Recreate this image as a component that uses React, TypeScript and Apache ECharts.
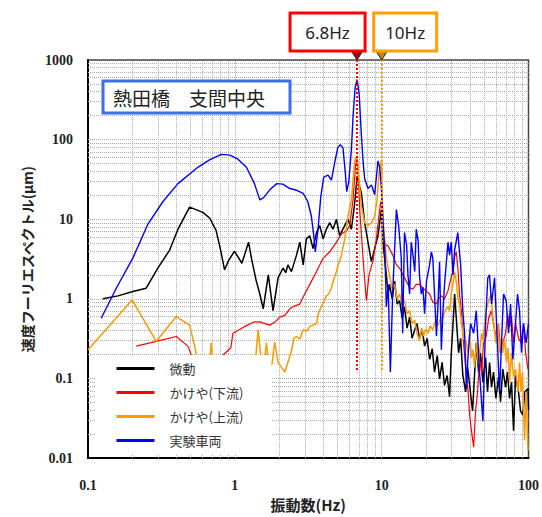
import { useEffect, useRef } from "react";
import * as echarts from "echarts";

// Velocity Fourier spectra at mid-span of 熱田橋: [frequency Hz, amplitude μm]
const seriesNames = ["微動", "かけや(下流)", "かけや(上流)", "実験車両"];

const microtremor: [number, number][] = [
  [0.126, 1.0], [0.16, 1.09], [0.202, 1.24], [0.249, 1.36], [0.299, 2.43], [0.36, 4.1], [0.41, 7.5],
  [0.492, 14.2], [0.606, 12.2], [0.676, 10.3], [0.746, 7.2], [0.8, 4.1], [0.851, 2.32], [0.91, 3.07],
  [0.995, 3.96], [1.117, 2.8], [1.24, 5.15], [1.305, 3.07], [1.4, 1.67], [1.48, 1.15], [1.56, 0.75],
  [1.69, 2.0], [1.82, 0.71], [1.97, 1.84], [2.13, 2.43], [2.22, 2.13], [2.3, 2.67], [2.43, 2.2],
  [2.63, 3.54], [2.77, 5.15], [2.92, 2.67], [3.07, 5.67], [3.24, 6.2], [3.41, 4.28], [3.6, 6.8],
  [3.79, 8.3], [3.99, 5.67], [4.2, 7.5], [4.43, 9.06], [4.66, 7.5], [4.92, 9.97], [5.18, 6.2],
  [5.6, 8.3], [5.9, 10], [6.22, 7.5], [6.55, 15.9], [6.8, 33.8], [7.03, 27], [7.28, 21.1],
  [7.66, 9.06], [8.07, 5.15], [8.51, 2.93], [8.96, 4.28], [9.44, 6.2], [9.95, 13.2], [10.2, 5.15],
  [10.76, 2.0], [11.07, 1.15], [11.3, 1.52], [11.8, 1.0], [12.25, 1.67], [12.75, 0.86], [13.25, 0.95],
  [13.8, 0.57], [14.3, 0.79], [14.9, 0.43], [15.5, 0.59], [16.1, 0.32], [16.8, 0.41], [17.4, 0.49],
  [18.1, 0.32], [18.9, 0.41], [19.6, 0.255], [20.4, 0.32], [21.2, 0.174], [22.1, 0.236], [22.9, 0.12],
  [23.9, 0.194], [24.8, 0.099], [25.8, 0.159], [26.8, 0.082], [27.9, 0.109], [29, 0.059], [29.8, 0.21],
  [30.9, 0.65], [31.4, 1.15], [32.4, 0.49], [33.4, 0.21], [34.5, 0.32], [35.7, 0.11], [37.3, 0.068],
  [38.5, 0.138], [39.7, 0.083], [41.6, 0.039], [44.1, 0.28], [45.7, 0.12], [47.1, 0.21], [48.9, 0.09],
  [51, 0.183], [52.6, 0.068], [54.3, 0.159], [56, 0.078], [57.8, 0.12], [60, 0.056], [62.5, 0.104],
  [64.5, 0.051], [66.8, 0.131], [69.8, 0.078], [71.9, 0.12], [74.3, 0.056], [76.6, 0.09], [79.1, 0.022],
  [81.6, 0.109], [85.5, 0.068], [88.3, 0.039], [91.4, 0.035], [94.6, 0.068], [99.2, 0.075], [100, 0.04],
];

const hammerDownstream: [number, number][] = [
  [0.213, 0.255], [0.292, 0.293], [0.399, 0.337], [0.479, 0.255], [0.543, 0.138], [0.731, 0.159],
  [0.94, 0.243], [0.97, 0.37], [1.02, 0.388], [1.17, 0.451], [1.36, 0.515], [1.48, 0.515], [1.73, 0.468],
  [1.9, 0.52], [2.02, 0.59], [2.19, 0.62], [2.37, 0.75], [2.56, 0.817], [2.77, 0.86], [2.99, 1.15],
  [3.24, 1.52], [3.6, 2.2], [3.99, 3.23], [4.43, 3.9], [4.92, 5.15], [5.32, 6.53], [5.78, 7.2],
  [6.06, 8.3], [6.38, 17.5], [6.65, 49.3], [6.8, 59.5], [6.92, 39], [7.09, 13.2], [7.47, 3.23],
  [7.66, 1.75], [7.87, 0.95], [8.2, 2.0], [8.73, 3.0], [9.2, 5.67], [9.57, 10.9], [9.85, 16.7],
  [10.07, 12.6], [10.3, 6.2], [10.6, 4.7], [11.0, 4.7], [11.9, 3.54], [12.6, 2.67], [13.25, 2.43],
  [14.7, 1.67], [15.5, 1.38], [16.3, 1.32], [17.2, 1.52], [18.1, 1.52], [19.0, 1.38], [20.1, 1.26],
  [21.2, 1.15], [22.3, 0.906], [23.6, 0.86], [24.4, 1.0], [25.5, 1.09], [26.8, 1.0], [28.3, 1.26],
  [29.5, 1.75], [30.5, 2.2], [31.4, 3.35], [32.2, 3.9], [33.1, 2.32], [33.9, 1.15], [34.9, 0.71],
  [36.1, 0.28], [37.7, 0.109], [38.8, 0.068], [39.7, 0.035], [40.9, 0.022], [42.3, 0.0137], [43.6, 0.039],
  [45, 0.068], [46.4, 0.174], [47.9, 0.12], [49.4, 0.28], [51.5, 0.337], [53.5, 0.57], [55.7, 0.71],
  [57.8, 0.49], [60, 0.337], [62.5, 0.49], [64.5, 0.21], [66.8, 0.28], [69.8, 0.37], [71.9, 0.65],
  [74.3, 0.448], [76.6, 0.6], [79.1, 0.28], [81.6, 0.49], [85.5, 0.32], [89, 0.28], [92.5, 0.49],
  [95.6, 0.21], [99.2, 0.131],
];

const hammerUpstream: [number, number][] = [
  [0.1, 0.229], [0.2, 0.966], [0.292, 0.293], [0.399, 0.6], [0.492, 0.468], [0.532, 0.255], [0.578, 0.12],
  [0.665, 0.12], [0.69, 0.28], [0.714, 0.12], [0.86, 0.1], [1.085, 0.095], [1.37, 0.138], [1.44, 0.41],
  [1.52, 0.15], [1.6, 0.183], [1.64, 0.28], [1.69, 0.168], [1.79, 0.15], [1.87, 0.287], [1.97, 0.159],
  [2.19, 0.12], [2.43, 0.223], [2.52, 0.32], [2.63, 0.337], [2.77, 0.313], [2.92, 0.41], [3.07, 0.392],
  [3.24, 0.448], [3.39, 0.464], [3.6, 0.49], [3.7, 0.65], [3.87, 0.79], [4.03, 0.914], [4.2, 1.09],
  [4.36, 1.15], [4.55, 1.38], [4.71, 1.75], [4.92, 2.2], [5.1, 2.82], [5.32, 3.54], [5.6, 5.67],
  [5.9, 10.9], [6.22, 17.5], [6.55, 54.2], [6.8, 63], [7.03, 29.4], [7.28, 14.5], [7.66, 9.06],
  [8.07, 8.3], [8.51, 9.06], [8.96, 10.9], [9.29, 17.5], [9.62, 39], [9.95, 54.7], [10.2, 10],
  [10.76, 3.23], [11.3, 2.0], [11.8, 1.32], [12.25, 1.52], [12.75, 1.0], [13.25, 1.15], [13.8, 0.817],
  [14.3, 0.95], [14.9, 0.65], [15.5, 0.71], [16.1, 0.49], [16.8, 0.54], [17.4, 0.37], [18.1, 0.3],
  [18.7, 0.43], [19.3, 0.34], [20, 0.42], [20.7, 0.37], [21.4, 0.456], [22.3, 0.41], [23.1, 0.52],
  [24.2, 0.464], [25.2, 0.57], [26.1, 0.59], [27.2, 0.73], [28.3, 0.79], [29, 0.71], [29.8, 1.15],
  [30.9, 1.75], [31.4, 2.2], [32.4, 1.52], [33.1, 1.0], [33.9, 0.86], [35, 0.49], [36.1, 0.32],
  [37.7, 0.28], [38.8, 0.21], [39.7, 0.37], [40.9, 0.183], [41.8, 0.23], [42.9, 0.138], [44.3, 0.28],
  [45.7, 0.15], [46.4, 0.21], [47.9, 0.37], [48.9, 0.3], [50.2, 0.49], [51.4, 0.71], [52.8, 0.86],
  [54.3, 1.0], [55.7, 1.15], [56.9, 0.65], [58.4, 0.43], [60, 0.28], [62.1, 0.49], [63.5, 0.21],
  [65, 0.32], [66.8, 0.21], [68.7, 0.32], [70.8, 0.159], [72.6, 0.243], [74.3, 0.09], [76.6, 0.21],
  [79.1, 0.104], [81.6, 0.131], [84.9, 0.068], [86.9, 0.159], [89, 0.068], [91, 0.12], [94, 0.0166],
  [96.2, 0.068], [99.2, 0.0125],
];

const testVehicle: [number, number][] = [
  [0.123, 0.57], [0.157, 1.4], [0.202, 3.25], [0.256, 8.7], [0.324, 16.7], [0.41, 28], [0.56, 44.9],
  [0.676, 56], [0.81, 65.3], [0.925, 63.8], [1.05, 56.7], [1.2, 44.9], [1.36, 28], [1.48, 17.5],
  [1.57, 18.7], [1.73, 23.4], [1.93, 28], [2.12, 27.6], [2.37, 24.3], [2.64, 23.1], [2.92, 21.1],
  [3.14, 16.7], [3.32, 10.9], [3.45, 6.2], [3.53, 3.9], [3.69, 7.6], [3.85, 19.2], [4.03, 33.8],
  [4.31, 35.8], [4.55, 31.1], [4.79, 51.7], [5.02, 78.9], [5.22, 86.6], [5.45, 78.9], [5.65, 39],
  [5.78, 22.2], [5.97, 29.4], [6.22, 75.2], [6.4, 212], [6.6, 454], [6.8, 569], [7.03, 372], [7.28, 111],
  [7.48, 51.7], [7.66, 32.3], [8.07, 24.3], [8.51, 27], [8.96, 20.4], [9.44, 54.2], [9.69, 44.9],
  [9.95, 25.5], [10.24, 8.3], [10.5, 4.3], [10.76, 0.79], [11.07, 1.52], [11.46, 0.12], [11.88, 1.15],
  [12.59, 13.2], [13.05, 8.3], [13.6, 3.25], [13.9, 0.37], [14.3, 6.8], [14.8, 4.7], [15.1, 2.0],
  [15.5, 1.15], [15.9, 5.15], [16.4, 3.35], [16.8, 2.2], [17.2, 7.5], [17.7, 5.4], [18.1, 2.0],
  [18.6, 1.15], [19.1, 1.4], [19.6, 0.65], [20.2, 1.67], [21.2, 2.67], [21.8, 3.9], [22.3, 3.25],
  [22.9, 1.15], [23.6, 0.34], [24.2, 0.86], [24.8, 2.93], [25.5, 0.23], [26.1, 0.65], [26.8, 1.52],
  [28.3, 5.15], [29, 3.54], [29.8, 5.15], [30.6, 2.0], [31.4, 4.1], [33, 6.8], [34.5, 2.67], [35.7, 0.71],
  [36.7, 0.37], [37.8, 0.074], [38.6, 0.174], [40.3, 0.49], [42.3, 0.37], [44.1, 0.71], [46.4, 0.12],
  [48.9, 0.029], [51, 0.49], [52.8, 1.84], [54.3, 2.0], [56, 0.86], [58.7, 1.84], [60.6, 0.49],
  [63.5, 0.068], [65.5, 0.28], [67.6, 1.15], [70.5, 0.95], [73.1, 0.37], [75.5, 0.86], [78.2, 0.174],
  [81.6, 0.49], [84.2, 1.15], [86.9, 0.71], [89.6, 0.21], [92.5, 0.49], [96.4, 0.28], [100, 0.49],
];

// Dominant frequencies marked by call-outs
const peakFreqs = [6.8, 10];
const peakLabels = ["6.8Hz", "10Hz"];
const peakLineBottom = 0.12;

const xRange = [0.1, 100];
const yRange = [0.01, 1000];

const titleText = "熱田橋　支間中央";

// log-decade grid positions (1..9 × 10^n) strictly inside the range
function decadeLines(lo: number, hi: number): number[] {
  const out: number[] = [];
  for (let d = lo; d < hi * 0.999; d *= 10) {
    for (let m = 1; m <= 9; m++) {
      const v = parseFloat((m * d).toPrecision(4));
      if (v > lo * 1.0001 && v < hi * 0.9999) out.push(v);
    }
  }
  return out;
}

export default function App() {
  const ref = useRef<HTMLDivElement>(null);

  useEffect(() => {
    if (!ref.current) return;
    const chart = echarts.init(ref.current, null, { renderer: "svg" });
    const serif = "'Liberation Serif', 'DejaVu Serif', serif";
    const cjk = "'Noto Sans CJK JP', 'Noto Sans', sans-serif";
    const fmt = (v: number) => String(parseFloat(Number(v).toPrecision(6)));

    const colors = ["#000000", "#ff0000", "#ff9900", "#0000ff"];
    const widths = [1.5, 1.2, 1.5, 1.4];
    const datasets = [microtremor, hammerDownstream, hammerUpstream, testVehicle];

    const dataSeries = datasets.map((d, i) => ({
      name: seriesNames[i],
      type: "line",
      data: d,
      symbol: "none",
      showSymbol: false,
      color: colors[i],
      lineStyle: { color: colors[i], width: widths[i] },
      z: 2,
      silent: true,
    }));

    const gridSeries = {
      name: "grid",
      type: "line",
      data: [[1, 1]],
      symbol: "none",
      lineStyle: { opacity: 0 },
      z: 1,
      silent: true,
      markLine: {
        z: 1,
        silent: true,
        symbol: "none",
        label: { show: false },
        lineStyle: { color: "#ababab", type: "dotted", width: 1 },
        data: [
          ...decadeLines(xRange[0], xRange[1]).map((v) => ({ xAxis: v })),
          ...decadeLines(yRange[0], yRange[1]).map((v) => ({ yAxis: v })),
        ],
      },
    };

    const peakColors = ["#ff0000", "#ffa000"];
    const peakSeries = peakFreqs.map((f, i) => ({
      name: "peak" + i,
      type: "line",
      data: [[1, 1]],
      symbol: "none",
      lineStyle: { opacity: 0 },
      z: 3,
      silent: true,
      markLine: {
        z: 3,
        silent: true,
        symbol: "none",
        label: { show: false },
        lineStyle: { color: peakColors[i], type: "dotted", width: 2 },
        data: [[{ coord: [f, yRange[1]] }, { coord: [f, peakLineBottom] }]],
      },
    }));

    chart.setOption({
      animation: false,
      backgroundColor: "#ffffff",
      grid: {
        left: 88,
        right: 13,
        top: 60,
        bottom: 49,
        show: true,
        borderColor: "#444",
        borderWidth: 1.5,
        backgroundColor: "transparent",
      },
      xAxis: {
        type: "log",
        logBase: 10,
        min: xRange[0],
        max: xRange[1],
        name: "振動数(Hz)",
        nameLocation: "middle",
        nameGap: 36,
        nameTextStyle: { fontFamily: cjk, fontSize: 15, fontWeight: "bold", color: "#222" },
        axisLine: { show: true, onZero: false, lineStyle: { color: "#000", width: 2 } },
        axisTick: { show: false },
        splitLine: { show: false },
        minorTick: { show: false },
        axisLabel: {
          formatter: fmt,
          fontFamily: serif,
          fontWeight: "bold",
          fontSize: 14,
          color: "#222",
          margin: 20,
          showMinLabel: true,
          showMaxLabel: true,
        },
      },
      yAxis: {
        type: "log",
        logBase: 10,
        min: yRange[0],
        max: yRange[1],
        name: "速度フーリエスペクトル(μm)",
        nameLocation: "middle",
        nameRotate: 90,
        nameGap: 53,
        nameTextStyle: { fontFamily: cjk, fontSize: 14, fontWeight: "bold", color: "#222" },
        axisLine: { show: true, onZero: false, lineStyle: { color: "#000", width: 2 } },
        axisTick: { show: false },
        splitLine: { show: false },
        axisLabel: {
          formatter: fmt,
          fontFamily: serif,
          fontWeight: "bold",
          fontSize: 14,
          color: "#222",
          margin: 15,
          showMinLabel: true,
          showMaxLabel: true,
        },
      },
      legend: {
        z: 6,
        data: seriesNames,
        orient: "vertical",
        left: 95,
        top: 355,
        padding: [7, 28, 8, 20],
        itemWidth: 38,
        itemHeight: 14,
        itemGap: 11,
        backgroundColor: "#ffffff",
        selectedMode: false,
        lineStyle: { width: 3 },
        itemStyle: { opacity: 0, borderWidth: 0 },
        textStyle: { fontFamily: cjk, fontSize: 13, color: "#333", padding: [0, 0, 0, 10] },
      },
      series: [gridSeries, ...dataSeries, ...peakSeries],
    });

    // call-out boxes anchored to the peak frequencies
    const top = chart.convertToPixel({ yAxisIndex: 0 }, yRange[1]) as number;
    const boxLayout = [
      { dx: -67, w: 75, stroke: "#ff0000", tip: "#b40000" },
      { dx: -8, w: 63, stroke: "#ffa000", tip: "#c98200" },
    ];
    const callouts: any[] = [];
    peakFreqs.forEach((f, i) => {
      const x = chart.convertToPixel({ xAxisIndex: 0 }, f) as number;
      const b = boxLayout[i];
      callouts.push(
        {
          type: "polygon",
          z: 20,
          shape: { points: [[x - 7, top - 11], [x + 7, top - 11], [x, top]] },
          style: { fill: b.tip, stroke: "#222", lineWidth: 1 },
        },
        {
          type: "rect",
          z: 21,
          shape: { x: x + b.dx, y: top - 47, width: b.w, height: 38 },
          style: { fill: "#ffffff", stroke: b.stroke, lineWidth: 3 },
        },
        {
          type: "text",
          z: 22,
          style: {
            text: peakLabels[i],
            x: x + b.dx + b.w / 2,
            y: top - 28,
            align: "center",
            verticalAlign: "middle",
            textAlign: "center",
            textVerticalAlign: "middle",
            font: "17px 'Noto Sans', 'Open Sans', sans-serif",
            fill: "#222",
          },
        }
      );
    });

    chart.setOption({
      graphic: [
        {
          type: "rect",
          z: 20,
          shape: { x: 103, y: 81, width: 187, height: 32 },
          style: { fill: "#ffffff", stroke: "#3d6fe6", lineWidth: 3 },
        },
        {
          type: "text",
          z: 21,
          style: {
            text: titleText,
            x: 113,
            y: 97,
            align: "left",
            verticalAlign: "middle",
            textAlign: "left",
            textVerticalAlign: "middle",
            font: "19px 'Noto Sans CJK JP', sans-serif",
            fill: "#222",
          },
        },
        ...callouts,
      ],
    });

    return () => chart.dispose();
  }, []);

  return (
    <div
      ref={ref}
      style={{ position: "absolute", left: 0, top: 0, width: 542, height: 517 }}
    />
  );
}
